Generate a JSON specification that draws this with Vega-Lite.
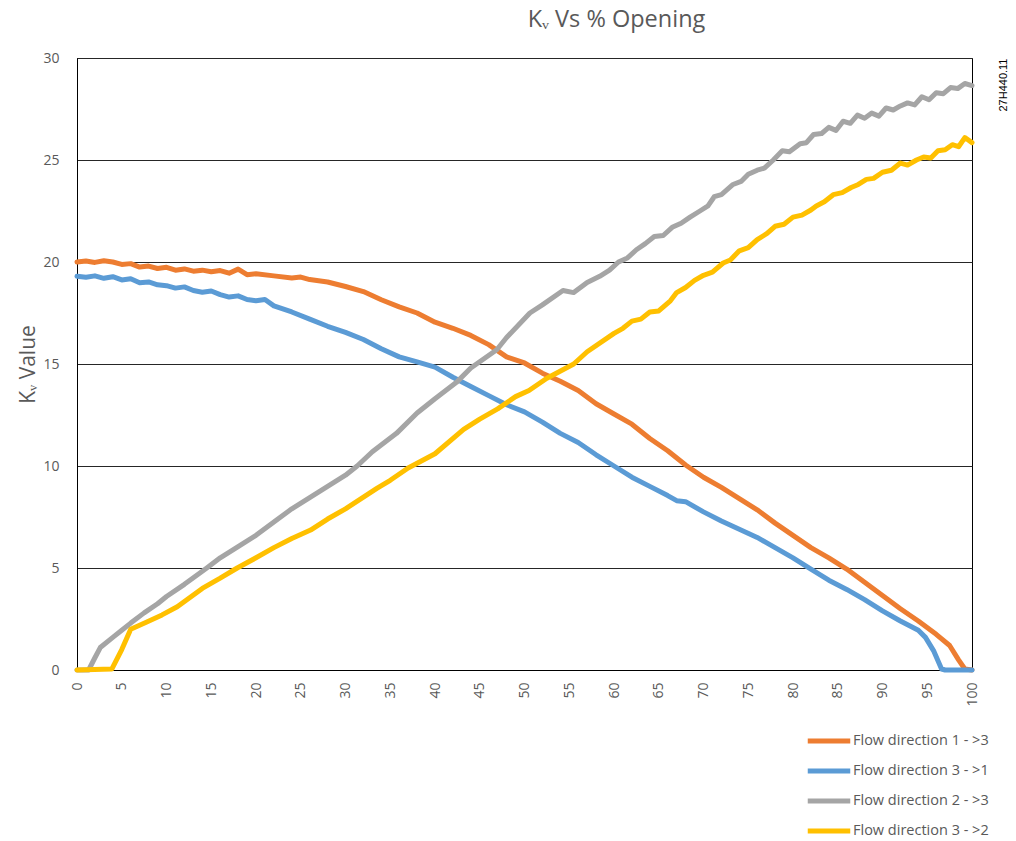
{
  "$schema": "https://vega.github.io/schema/vega-lite/v6.json",
  "width": 895,
  "height": 612,
  "autosize": {"type": "none"},
  "padding": {"left": 77, "top": 58, "right": 44, "bottom": 171},
  "background": "white",
  "title": {"text": "Kᵥ Vs % Opening", "anchor": "middle", "dx": 92, "fontSize": 23.5, "font": "Open Sans", "fontWeight": "normal", "color": "#595959", "offset": 1, "baseline": "alphabetic"},
  "config": {"view": {"stroke": "#000", "strokeWidth": 1}, "font": "Open Sans"},
  "datasets": {
    "d": [
      {"x": 0, "kv": 20.0, "s": "Flow direction 1 - >3"},
      {"x": 1, "kv": 20.05, "s": "Flow direction 1 - >3"},
      {"x": 2, "kv": 19.98, "s": "Flow direction 1 - >3"},
      {"x": 3, "kv": 20.06, "s": "Flow direction 1 - >3"},
      {"x": 4, "kv": 20.0, "s": "Flow direction 1 - >3"},
      {"x": 5, "kv": 19.88, "s": "Flow direction 1 - >3"},
      {"x": 6, "kv": 19.92, "s": "Flow direction 1 - >3"},
      {"x": 7, "kv": 19.75, "s": "Flow direction 1 - >3"},
      {"x": 8, "kv": 19.8, "s": "Flow direction 1 - >3"},
      {"x": 9, "kv": 19.68, "s": "Flow direction 1 - >3"},
      {"x": 10, "kv": 19.74, "s": "Flow direction 1 - >3"},
      {"x": 11, "kv": 19.6, "s": "Flow direction 1 - >3"},
      {"x": 12, "kv": 19.66, "s": "Flow direction 1 - >3"},
      {"x": 13, "kv": 19.55, "s": "Flow direction 1 - >3"},
      {"x": 14, "kv": 19.6, "s": "Flow direction 1 - >3"},
      {"x": 15, "kv": 19.52, "s": "Flow direction 1 - >3"},
      {"x": 16, "kv": 19.58, "s": "Flow direction 1 - >3"},
      {"x": 17, "kv": 19.45, "s": "Flow direction 1 - >3"},
      {"x": 18, "kv": 19.65, "s": "Flow direction 1 - >3"},
      {"x": 19, "kv": 19.38, "s": "Flow direction 1 - >3"},
      {"x": 20, "kv": 19.42, "s": "Flow direction 1 - >3"},
      {"x": 22, "kv": 19.32, "s": "Flow direction 1 - >3"},
      {"x": 24, "kv": 19.22, "s": "Flow direction 1 - >3"},
      {"x": 25, "kv": 19.26, "s": "Flow direction 1 - >3"},
      {"x": 26, "kv": 19.14, "s": "Flow direction 1 - >3"},
      {"x": 28, "kv": 19.02, "s": "Flow direction 1 - >3"},
      {"x": 30, "kv": 18.8, "s": "Flow direction 1 - >3"},
      {"x": 32, "kv": 18.55, "s": "Flow direction 1 - >3"},
      {"x": 34, "kv": 18.15, "s": "Flow direction 1 - >3"},
      {"x": 36, "kv": 17.8, "s": "Flow direction 1 - >3"},
      {"x": 38, "kv": 17.5, "s": "Flow direction 1 - >3"},
      {"x": 40, "kv": 17.05, "s": "Flow direction 1 - >3"},
      {"x": 42, "kv": 16.75, "s": "Flow direction 1 - >3"},
      {"x": 44, "kv": 16.4, "s": "Flow direction 1 - >3"},
      {"x": 46, "kv": 15.95, "s": "Flow direction 1 - >3"},
      {"x": 48, "kv": 15.35, "s": "Flow direction 1 - >3"},
      {"x": 50, "kv": 15.05, "s": "Flow direction 1 - >3"},
      {"x": 52, "kv": 14.55, "s": "Flow direction 1 - >3"},
      {"x": 54, "kv": 14.15, "s": "Flow direction 1 - >3"},
      {"x": 56, "kv": 13.7, "s": "Flow direction 1 - >3"},
      {"x": 58, "kv": 13.05, "s": "Flow direction 1 - >3"},
      {"x": 60, "kv": 12.55, "s": "Flow direction 1 - >3"},
      {"x": 62, "kv": 12.05, "s": "Flow direction 1 - >3"},
      {"x": 64, "kv": 11.35, "s": "Flow direction 1 - >3"},
      {"x": 66, "kv": 10.75, "s": "Flow direction 1 - >3"},
      {"x": 68, "kv": 10.05, "s": "Flow direction 1 - >3"},
      {"x": 70, "kv": 9.45, "s": "Flow direction 1 - >3"},
      {"x": 72, "kv": 8.95, "s": "Flow direction 1 - >3"},
      {"x": 74, "kv": 8.4, "s": "Flow direction 1 - >3"},
      {"x": 76, "kv": 7.85, "s": "Flow direction 1 - >3"},
      {"x": 78, "kv": 7.2, "s": "Flow direction 1 - >3"},
      {"x": 80, "kv": 6.6, "s": "Flow direction 1 - >3"},
      {"x": 82, "kv": 6.0, "s": "Flow direction 1 - >3"},
      {"x": 84, "kv": 5.5, "s": "Flow direction 1 - >3"},
      {"x": 86, "kv": 4.95, "s": "Flow direction 1 - >3"},
      {"x": 88, "kv": 4.3, "s": "Flow direction 1 - >3"},
      {"x": 90, "kv": 3.65, "s": "Flow direction 1 - >3"},
      {"x": 92, "kv": 3.0, "s": "Flow direction 1 - >3"},
      {"x": 94, "kv": 2.4, "s": "Flow direction 1 - >3"},
      {"x": 96, "kv": 1.75, "s": "Flow direction 1 - >3"},
      {"x": 97.5, "kv": 1.2, "s": "Flow direction 1 - >3"},
      {"x": 98.5, "kv": 0.5, "s": "Flow direction 1 - >3"},
      {"x": 99.2, "kv": 0.05, "s": "Flow direction 1 - >3"},
      {"x": 100, "kv": 0, "s": "Flow direction 1 - >3"},

      {"x": 0, "kv": 19.3, "s": "Flow direction 3 - >1"},
      {"x": 1, "kv": 19.25, "s": "Flow direction 3 - >1"},
      {"x": 2, "kv": 19.32, "s": "Flow direction 3 - >1"},
      {"x": 3, "kv": 19.2, "s": "Flow direction 3 - >1"},
      {"x": 4, "kv": 19.28, "s": "Flow direction 3 - >1"},
      {"x": 5, "kv": 19.12, "s": "Flow direction 3 - >1"},
      {"x": 6, "kv": 19.18, "s": "Flow direction 3 - >1"},
      {"x": 7, "kv": 18.98, "s": "Flow direction 3 - >1"},
      {"x": 8, "kv": 19.02, "s": "Flow direction 3 - >1"},
      {"x": 9, "kv": 18.88, "s": "Flow direction 3 - >1"},
      {"x": 10, "kv": 18.84, "s": "Flow direction 3 - >1"},
      {"x": 11, "kv": 18.72, "s": "Flow direction 3 - >1"},
      {"x": 12, "kv": 18.78, "s": "Flow direction 3 - >1"},
      {"x": 13, "kv": 18.6, "s": "Flow direction 3 - >1"},
      {"x": 14, "kv": 18.52, "s": "Flow direction 3 - >1"},
      {"x": 15, "kv": 18.58, "s": "Flow direction 3 - >1"},
      {"x": 16, "kv": 18.4, "s": "Flow direction 3 - >1"},
      {"x": 17, "kv": 18.28, "s": "Flow direction 3 - >1"},
      {"x": 18, "kv": 18.34, "s": "Flow direction 3 - >1"},
      {"x": 19, "kv": 18.16, "s": "Flow direction 3 - >1"},
      {"x": 20, "kv": 18.1, "s": "Flow direction 3 - >1"},
      {"x": 21, "kv": 18.16, "s": "Flow direction 3 - >1"},
      {"x": 22, "kv": 17.85, "s": "Flow direction 3 - >1"},
      {"x": 24, "kv": 17.55, "s": "Flow direction 3 - >1"},
      {"x": 26, "kv": 17.2, "s": "Flow direction 3 - >1"},
      {"x": 28, "kv": 16.85, "s": "Flow direction 3 - >1"},
      {"x": 30, "kv": 16.55, "s": "Flow direction 3 - >1"},
      {"x": 32, "kv": 16.2, "s": "Flow direction 3 - >1"},
      {"x": 34, "kv": 15.75, "s": "Flow direction 3 - >1"},
      {"x": 36, "kv": 15.35, "s": "Flow direction 3 - >1"},
      {"x": 38, "kv": 15.1, "s": "Flow direction 3 - >1"},
      {"x": 40, "kv": 14.85, "s": "Flow direction 3 - >1"},
      {"x": 42, "kv": 14.35, "s": "Flow direction 3 - >1"},
      {"x": 44, "kv": 13.9, "s": "Flow direction 3 - >1"},
      {"x": 46, "kv": 13.45, "s": "Flow direction 3 - >1"},
      {"x": 48, "kv": 13.0, "s": "Flow direction 3 - >1"},
      {"x": 50, "kv": 12.65, "s": "Flow direction 3 - >1"},
      {"x": 52, "kv": 12.15, "s": "Flow direction 3 - >1"},
      {"x": 54, "kv": 11.6, "s": "Flow direction 3 - >1"},
      {"x": 56, "kv": 11.15, "s": "Flow direction 3 - >1"},
      {"x": 58, "kv": 10.55, "s": "Flow direction 3 - >1"},
      {"x": 60, "kv": 10.0, "s": "Flow direction 3 - >1"},
      {"x": 62, "kv": 9.45, "s": "Flow direction 3 - >1"},
      {"x": 64, "kv": 9.0, "s": "Flow direction 3 - >1"},
      {"x": 66, "kv": 8.55, "s": "Flow direction 3 - >1"},
      {"x": 67, "kv": 8.3, "s": "Flow direction 3 - >1"},
      {"x": 68, "kv": 8.25, "s": "Flow direction 3 - >1"},
      {"x": 70, "kv": 7.75, "s": "Flow direction 3 - >1"},
      {"x": 72, "kv": 7.3, "s": "Flow direction 3 - >1"},
      {"x": 74, "kv": 6.9, "s": "Flow direction 3 - >1"},
      {"x": 76, "kv": 6.5, "s": "Flow direction 3 - >1"},
      {"x": 78, "kv": 6.0, "s": "Flow direction 3 - >1"},
      {"x": 80, "kv": 5.5, "s": "Flow direction 3 - >1"},
      {"x": 82, "kv": 4.95, "s": "Flow direction 3 - >1"},
      {"x": 84, "kv": 4.4, "s": "Flow direction 3 - >1"},
      {"x": 86, "kv": 3.95, "s": "Flow direction 3 - >1"},
      {"x": 88, "kv": 3.45, "s": "Flow direction 3 - >1"},
      {"x": 90, "kv": 2.9, "s": "Flow direction 3 - >1"},
      {"x": 92, "kv": 2.4, "s": "Flow direction 3 - >1"},
      {"x": 94, "kv": 1.95, "s": "Flow direction 3 - >1"},
      {"x": 94.8, "kv": 1.6, "s": "Flow direction 3 - >1"},
      {"x": 95.7, "kv": 0.95, "s": "Flow direction 3 - >1"},
      {"x": 96.6, "kv": 0.05, "s": "Flow direction 3 - >1"},
      {"x": 97, "kv": 0, "s": "Flow direction 3 - >1"},
      {"x": 100, "kv": 0, "s": "Flow direction 3 - >1"},

      {"x": 0, "kv": 0, "s": "Flow direction 2 - >3"},
      {"x": 1.3, "kv": 0, "s": "Flow direction 2 - >3"},
      {"x": 2, "kv": 0.6, "s": "Flow direction 2 - >3"},
      {"x": 2.6, "kv": 1.1, "s": "Flow direction 2 - >3"},
      {"x": 4, "kv": 1.6, "s": "Flow direction 2 - >3"},
      {"x": 5, "kv": 1.95, "s": "Flow direction 2 - >3"},
      {"x": 6, "kv": 2.3, "s": "Flow direction 2 - >3"},
      {"x": 7.5, "kv": 2.8, "s": "Flow direction 2 - >3"},
      {"x": 9, "kv": 3.25, "s": "Flow direction 2 - >3"},
      {"x": 10, "kv": 3.6, "s": "Flow direction 2 - >3"},
      {"x": 12, "kv": 4.2, "s": "Flow direction 2 - >3"},
      {"x": 14.5, "kv": 5.0, "s": "Flow direction 2 - >3"},
      {"x": 16, "kv": 5.5, "s": "Flow direction 2 - >3"},
      {"x": 18, "kv": 6.05, "s": "Flow direction 2 - >3"},
      {"x": 20, "kv": 6.6, "s": "Flow direction 2 - >3"},
      {"x": 22.3, "kv": 7.35, "s": "Flow direction 2 - >3"},
      {"x": 24, "kv": 7.9, "s": "Flow direction 2 - >3"},
      {"x": 26, "kv": 8.45, "s": "Flow direction 2 - >3"},
      {"x": 28, "kv": 9.0, "s": "Flow direction 2 - >3"},
      {"x": 30, "kv": 9.55, "s": "Flow direction 2 - >3"},
      {"x": 31.3, "kv": 10.0, "s": "Flow direction 2 - >3"},
      {"x": 33, "kv": 10.7, "s": "Flow direction 2 - >3"},
      {"x": 35.7, "kv": 11.6, "s": "Flow direction 2 - >3"},
      {"x": 38, "kv": 12.6, "s": "Flow direction 2 - >3"},
      {"x": 40, "kv": 13.3, "s": "Flow direction 2 - >3"},
      {"x": 42.4, "kv": 14.1, "s": "Flow direction 2 - >3"},
      {"x": 44, "kv": 14.8, "s": "Flow direction 2 - >3"},
      {"x": 46.9, "kv": 15.7, "s": "Flow direction 2 - >3"},
      {"x": 48, "kv": 16.3, "s": "Flow direction 2 - >3"},
      {"x": 50.6, "kv": 17.5, "s": "Flow direction 2 - >3"},
      {"x": 52, "kv": 17.9, "s": "Flow direction 2 - >3"},
      {"x": 54.3, "kv": 18.6, "s": "Flow direction 2 - >3"},
      {"x": 55.5, "kv": 18.5, "s": "Flow direction 2 - >3"},
      {"x": 57, "kv": 19.0, "s": "Flow direction 2 - >3"},
      {"x": 58.4, "kv": 19.3, "s": "Flow direction 2 - >3"},
      {"x": 59.5, "kv": 19.6, "s": "Flow direction 2 - >3"},
      {"x": 60.5, "kv": 20.0, "s": "Flow direction 2 - >3"},
      {"x": 61.5, "kv": 20.2, "s": "Flow direction 2 - >3"},
      {"x": 62.5, "kv": 20.6, "s": "Flow direction 2 - >3"},
      {"x": 63.5, "kv": 20.9, "s": "Flow direction 2 - >3"},
      {"x": 64.5, "kv": 21.25, "s": "Flow direction 2 - >3"},
      {"x": 65.5, "kv": 21.3, "s": "Flow direction 2 - >3"},
      {"x": 66.5, "kv": 21.7, "s": "Flow direction 2 - >3"},
      {"x": 67.5, "kv": 21.9, "s": "Flow direction 2 - >3"},
      {"x": 68.5, "kv": 22.2, "s": "Flow direction 2 - >3"},
      {"x": 69.6, "kv": 22.5, "s": "Flow direction 2 - >3"},
      {"x": 70.5, "kv": 22.75, "s": "Flow direction 2 - >3"},
      {"x": 71.2, "kv": 23.2, "s": "Flow direction 2 - >3"},
      {"x": 72, "kv": 23.3, "s": "Flow direction 2 - >3"},
      {"x": 73.3, "kv": 23.8, "s": "Flow direction 2 - >3"},
      {"x": 74.2, "kv": 23.95, "s": "Flow direction 2 - >3"},
      {"x": 75, "kv": 24.3, "s": "Flow direction 2 - >3"},
      {"x": 76, "kv": 24.5, "s": "Flow direction 2 - >3"},
      {"x": 76.8, "kv": 24.6, "s": "Flow direction 2 - >3"},
      {"x": 77.8, "kv": 25.0, "s": "Flow direction 2 - >3"},
      {"x": 78.8, "kv": 25.45, "s": "Flow direction 2 - >3"},
      {"x": 79.6, "kv": 25.4, "s": "Flow direction 2 - >3"},
      {"x": 80.8, "kv": 25.8, "s": "Flow direction 2 - >3"},
      {"x": 81.5, "kv": 25.85, "s": "Flow direction 2 - >3"},
      {"x": 82.3, "kv": 26.25, "s": "Flow direction 2 - >3"},
      {"x": 83.2, "kv": 26.3, "s": "Flow direction 2 - >3"},
      {"x": 84, "kv": 26.6, "s": "Flow direction 2 - >3"},
      {"x": 84.8, "kv": 26.45, "s": "Flow direction 2 - >3"},
      {"x": 85.6, "kv": 26.9, "s": "Flow direction 2 - >3"},
      {"x": 86.4, "kv": 26.8, "s": "Flow direction 2 - >3"},
      {"x": 87.2, "kv": 27.2, "s": "Flow direction 2 - >3"},
      {"x": 88, "kv": 27.05, "s": "Flow direction 2 - >3"},
      {"x": 88.8, "kv": 27.3, "s": "Flow direction 2 - >3"},
      {"x": 89.6, "kv": 27.15, "s": "Flow direction 2 - >3"},
      {"x": 90.4, "kv": 27.55, "s": "Flow direction 2 - >3"},
      {"x": 91.2, "kv": 27.45, "s": "Flow direction 2 - >3"},
      {"x": 92, "kv": 27.65, "s": "Flow direction 2 - >3"},
      {"x": 92.8, "kv": 27.8, "s": "Flow direction 2 - >3"},
      {"x": 93.6, "kv": 27.7, "s": "Flow direction 2 - >3"},
      {"x": 94.4, "kv": 28.1, "s": "Flow direction 2 - >3"},
      {"x": 95.2, "kv": 27.95, "s": "Flow direction 2 - >3"},
      {"x": 96, "kv": 28.3, "s": "Flow direction 2 - >3"},
      {"x": 96.8, "kv": 28.25, "s": "Flow direction 2 - >3"},
      {"x": 97.6, "kv": 28.55, "s": "Flow direction 2 - >3"},
      {"x": 98.4, "kv": 28.5, "s": "Flow direction 2 - >3"},
      {"x": 99.2, "kv": 28.75, "s": "Flow direction 2 - >3"},
      {"x": 100, "kv": 28.65, "s": "Flow direction 2 - >3"},

      {"x": 0, "kv": 0, "s": "Flow direction 3 - >2"},
      {"x": 3.9, "kv": 0.05, "s": "Flow direction 3 - >2"},
      {"x": 5, "kv": 1.0, "s": "Flow direction 3 - >2"},
      {"x": 6, "kv": 2.0, "s": "Flow direction 3 - >2"},
      {"x": 7.8, "kv": 2.35, "s": "Flow direction 3 - >2"},
      {"x": 9.5, "kv": 2.7, "s": "Flow direction 3 - >2"},
      {"x": 11.2, "kv": 3.1, "s": "Flow direction 3 - >2"},
      {"x": 14, "kv": 4.0, "s": "Flow direction 3 - >2"},
      {"x": 16, "kv": 4.5, "s": "Flow direction 3 - >2"},
      {"x": 17.9, "kv": 5.0, "s": "Flow direction 3 - >2"},
      {"x": 20, "kv": 5.5, "s": "Flow direction 3 - >2"},
      {"x": 22, "kv": 6.0, "s": "Flow direction 3 - >2"},
      {"x": 24, "kv": 6.45, "s": "Flow direction 3 - >2"},
      {"x": 26.1, "kv": 6.86, "s": "Flow direction 3 - >2"},
      {"x": 28, "kv": 7.4, "s": "Flow direction 3 - >2"},
      {"x": 30, "kv": 7.9, "s": "Flow direction 3 - >2"},
      {"x": 33.5, "kv": 8.9, "s": "Flow direction 3 - >2"},
      {"x": 35, "kv": 9.3, "s": "Flow direction 3 - >2"},
      {"x": 37, "kv": 9.9, "s": "Flow direction 3 - >2"},
      {"x": 40, "kv": 10.6, "s": "Flow direction 3 - >2"},
      {"x": 43.2, "kv": 11.8, "s": "Flow direction 3 - >2"},
      {"x": 45, "kv": 12.3, "s": "Flow direction 3 - >2"},
      {"x": 47, "kv": 12.8, "s": "Flow direction 3 - >2"},
      {"x": 49, "kv": 13.4, "s": "Flow direction 3 - >2"},
      {"x": 50.5, "kv": 13.7, "s": "Flow direction 3 - >2"},
      {"x": 52.5, "kv": 14.3, "s": "Flow direction 3 - >2"},
      {"x": 55.5, "kv": 15.0, "s": "Flow direction 3 - >2"},
      {"x": 57, "kv": 15.6, "s": "Flow direction 3 - >2"},
      {"x": 60, "kv": 16.5, "s": "Flow direction 3 - >2"},
      {"x": 61, "kv": 16.75, "s": "Flow direction 3 - >2"},
      {"x": 62, "kv": 17.1, "s": "Flow direction 3 - >2"},
      {"x": 63, "kv": 17.2, "s": "Flow direction 3 - >2"},
      {"x": 64, "kv": 17.55, "s": "Flow direction 3 - >2"},
      {"x": 65, "kv": 17.6, "s": "Flow direction 3 - >2"},
      {"x": 66.3, "kv": 18.1, "s": "Flow direction 3 - >2"},
      {"x": 67, "kv": 18.5, "s": "Flow direction 3 - >2"},
      {"x": 68, "kv": 18.75, "s": "Flow direction 3 - >2"},
      {"x": 69, "kv": 19.1, "s": "Flow direction 3 - >2"},
      {"x": 70, "kv": 19.35, "s": "Flow direction 3 - >2"},
      {"x": 71, "kv": 19.5, "s": "Flow direction 3 - >2"},
      {"x": 72.2, "kv": 19.95, "s": "Flow direction 3 - >2"},
      {"x": 73, "kv": 20.1, "s": "Flow direction 3 - >2"},
      {"x": 74, "kv": 20.55, "s": "Flow direction 3 - >2"},
      {"x": 75, "kv": 20.7, "s": "Flow direction 3 - >2"},
      {"x": 76, "kv": 21.1, "s": "Flow direction 3 - >2"},
      {"x": 77.1, "kv": 21.4, "s": "Flow direction 3 - >2"},
      {"x": 78, "kv": 21.75, "s": "Flow direction 3 - >2"},
      {"x": 79, "kv": 21.85, "s": "Flow direction 3 - >2"},
      {"x": 80, "kv": 22.2, "s": "Flow direction 3 - >2"},
      {"x": 81, "kv": 22.3, "s": "Flow direction 3 - >2"},
      {"x": 82, "kv": 22.55, "s": "Flow direction 3 - >2"},
      {"x": 82.6, "kv": 22.75, "s": "Flow direction 3 - >2"},
      {"x": 83.5, "kv": 22.95, "s": "Flow direction 3 - >2"},
      {"x": 84.5, "kv": 23.3, "s": "Flow direction 3 - >2"},
      {"x": 85.5, "kv": 23.4, "s": "Flow direction 3 - >2"},
      {"x": 86.5, "kv": 23.65, "s": "Flow direction 3 - >2"},
      {"x": 87.3, "kv": 23.8, "s": "Flow direction 3 - >2"},
      {"x": 88.2, "kv": 24.05, "s": "Flow direction 3 - >2"},
      {"x": 89, "kv": 24.1, "s": "Flow direction 3 - >2"},
      {"x": 90, "kv": 24.4, "s": "Flow direction 3 - >2"},
      {"x": 91, "kv": 24.5, "s": "Flow direction 3 - >2"},
      {"x": 92, "kv": 24.85, "s": "Flow direction 3 - >2"},
      {"x": 92.8, "kv": 24.75, "s": "Flow direction 3 - >2"},
      {"x": 93.8, "kv": 25.0, "s": "Flow direction 3 - >2"},
      {"x": 94.6, "kv": 25.15, "s": "Flow direction 3 - >2"},
      {"x": 95.4, "kv": 25.1, "s": "Flow direction 3 - >2"},
      {"x": 96.2, "kv": 25.45, "s": "Flow direction 3 - >2"},
      {"x": 97, "kv": 25.5, "s": "Flow direction 3 - >2"},
      {"x": 97.8, "kv": 25.75, "s": "Flow direction 3 - >2"},
      {"x": 98.5, "kv": 25.65, "s": "Flow direction 3 - >2"},
      {"x": 99.2, "kv": 26.1, "s": "Flow direction 3 - >2"},
      {"x": 100, "kv": 25.85, "s": "Flow direction 3 - >2"}
    ]
  },
  "data": {"name": "d"},
  "layer": [
    {
      "mark": {"type": "line", "strokeWidth": 5, "strokeCap": "round", "strokeJoin": "round"},
      "encoding": {
        "x": {
          "field": "x", "type": "quantitative",
          "scale": {"domain": [0, 100], "nice": false, "zero": false},
          "axis": {"values": [0, 5, 10, 15, 20, 25, 30, 35, 40, 45, 50, 55, 60, 65, 70, 75, 80, 85, 90, 95, 100], "labelAngle": 270, "grid": false, "ticks": false, "tickSize": 0, "domain": true, "domainColor": "#000", "labelFontSize": 14, "labelColor": "#595959", "labelPadding": 12, "labelFont": "Open Sans", "title": null}
        },
        "y": {
          "field": "kv", "type": "quantitative",
          "scale": {"domain": [0, 30], "nice": false},
          "axis": {"values": [0, 5, 10, 15, 20, 25, 30], "grid": true, "gridColor": "#262626", "gridOpacity": 1, "ticks": false, "tickSize": 0, "domain": true, "domainColor": "#000", "labelFontSize": 14, "labelColor": "#595959", "labelPadding": 18, "labelFont": "Open Sans", "title": "Kᵥ Value", "titleFontSize": 21, "titleColor": "#595959", "titleFontWeight": "normal", "titleFont": "Open Sans", "titlePadding": 4}
        },
        "color": {
          "field": "s", "type": "nominal",
          "scale": {"domain": ["Flow direction 1 - >3", "Flow direction 3 - >1", "Flow direction 2 - >3", "Flow direction 3 - >2"], "range": ["#ED7D31", "#5B9BD5", "#A5A5A5", "#FFC000"]},
          "legend": {"orient": "none", "legendX": 741, "legendY": 672, "title": null, "symbolType": "M-2.5,0H2.5", "symbolSize": 289, "symbolStrokeWidth": 5, "labelFontSize": 14.5, "labelColor": "#595959", "labelFont": "Open Sans", "rowPadding": 9, "labelOffset": 13}
        }
      }
    },
    {
      "mark": {"type": "point", "opacity": 0},
      "encoding": {
        "y": {
          "datum": 0, "type": "quantitative",
          "scale": {"domain": [0, 30], "nice": false},
          "axis": {"orient": "right", "labels": false, "ticks": false, "domain": false, "grid": false, "title": "27H440.11", "titleAngle": 270, "titleAlign": "right", "titleBaseline": "middle", "titleX": 31, "titleY": 0, "titleFontSize": 11, "titleFont": "Liberation Sans", "titleFontWeight": "normal", "titleColor": "#000"}
        }
      }
    }
  ],
  "resolve": {"scale": {"y": "independent"}, "axis": {"y": "independent"}}
}
